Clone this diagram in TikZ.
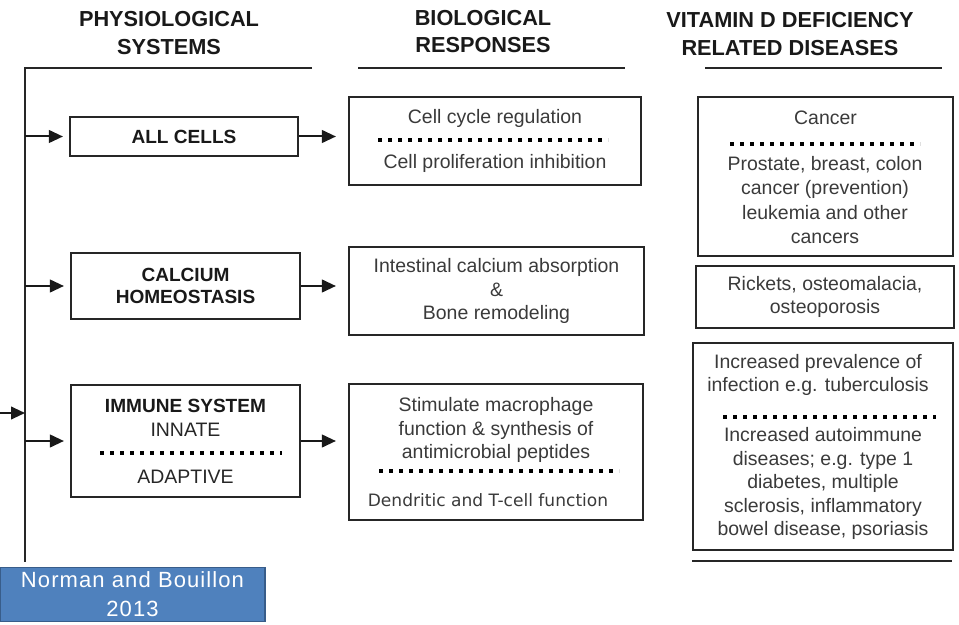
\documentclass[tikz,border=0pt]{standalone}
\usepackage{fontspec}
\setmainfont{Liberation Sans}
\newfontfamily\widefont{DejaVu Sans}
\newfontfamily\notefont[LetterSpace=5]{Liberation Sans}
\usetikzlibrary{arrows.meta}
\newdimen\pxu \pxu=0.75pt
\definecolor{inkgray}{HTML}{3A3A3A}
\definecolor{notefill}{HTML}{4F81BD}
\definecolor{noteedge}{HTML}{385D8A}

\begin{document}
\begin{tikzpicture}[
    x=0.75pt, y=-0.75pt,
    box/.style={rectangle, draw=black!85, line width=1.6pt, inner sep=0pt, align=center},
    header/.style={align=center, font=\fontsize{16.3}{20.5}\selectfont\bfseries, text=black!90},
    title/.style={align=center, font=\fontsize{14.3}{16.5}\selectfont\bfseries, text=black!90},
    body/.style={align=center, font=\fontsize{14.6}{17.6}\selectfont, text=inkgray},
    rule/.style={draw=black!85, line width=1.5pt},
    dots/.style={draw=black, line width=2.9pt, dash pattern=on 2.9pt off 4.6pt},
    arrow/.style={-{Triangle[length=10.5pt, width=9.5pt]}, draw=black!90, line width=1.5pt},
    note/.style={rectangle, fill=notefill, draw=noteedge, line width=1pt, align=center, text=white,
        font=\notefont\fontsize{16.5}{21.8}\selectfont}
]
\useasboundingbox (0,0) rectangle (959,624);

% Column headers
\node[header] (physio head) at (169,33) {PHYSIOLOGICAL\\SYSTEMS};
\node[header] (bio head) at (483,31.5) {BIOLOGICAL\\RESPONSES};
\node[header] (disease head) at (790,34) {VITAMIN D DEFICIENCY\\RELATED DISEASES};

% Header rules and spine
\coordinate (spine top) at (25,68);
\coordinate (spine end) at (25,562);
\coordinate (physio rule end) at (312,68);
\coordinate (bio rule start) at (358,68);
\coordinate (bio rule end) at (625,68);
\coordinate (disease rule start) at (705,68);
\coordinate (disease rule end) at (942,68);
\coordinate (bottom rule start) at (692,561);
\coordinate (bottom rule end) at (952,561);
\draw[rule] (physio rule end) -- (spine top) -- (spine end);
\draw[rule] (bio rule start) -- (bio rule end);
\draw[rule] (disease rule start) -- (disease rule end);
\draw[rule] (bottom rule start) -- (bottom rule end);

% Physiological systems
\node[box, title, minimum width=228\pxu, minimum height=39\pxu] (allcells) at (184,136.5) {ALL CELLS};
\node[box, title, minimum width=229\pxu, minimum height=66\pxu] (calcium) at (185.5,286) {CALCIUM\\HOMEOSTASIS};
\node[box, minimum width=229\pxu, minimum height=112\pxu] (immune) at (185.5,441) {};
\node[title] (immune title) at (185.5,406) {IMMUNE SYSTEM};
\node[body, text=black!85] (innate) at (185.5,430) {INNATE};
\draw[dots] (100,453) -- (282,453);
\node[body, text=black!85] (adaptive) at (185.5,477) {ADAPTIVE};

% Biological responses
\node[box, minimum width=292\pxu, minimum height=88\pxu] (cycle) at (495,141) {};
\node[body] (cycle top) at (495,118) {Cell cycle regulation};
\draw[dots] (378,140) -- (608,140);
\node[body] (cycle bottom) at (495,163) {Cell proliferation inhibition};
\node[box, body, minimum width=295\pxu, minimum height=88\pxu] (intestine) at (496.5,291) {Intestinal calcium absorption\\\&\\Bone remodeling};
\node[box, minimum width=294\pxu, minimum height=136\pxu] (macrophage) at (496,452) {};
\node[body] (macrophage top) at (496,430) {Stimulate macrophage\\function \& synthesis of\\antimicrobial peptides};
\draw[dots] (379,471) -- (619,471);
\node[body, font=\widefont\fontsize{12.8}{15}\selectfont] (dendritic) at (488,500) {Dendritic and T-cell function};

% Vitamin D deficiency related diseases
\node[box, minimum width=255\pxu, minimum height=159\pxu] (cancer) at (825.5,176.5) {};
\node[body] (cancer top) at (825.5,118) {Cancer};
\draw[dots] (730,144) -- (920,144);
\node[body, font=\fontsize{14.6}{18.2}\selectfont] (cancer types) at (825,200) {Prostate, breast, colon\\cancer (prevention)\\leukemia and other\\cancers};
\node[box, body, minimum width=258\pxu, minimum height=62\pxu] (rickets) at (825,297) {Rickets, osteomalacia,\\osteoporosis};
\node[box, minimum width=260\pxu, minimum height=207\pxu] (infect) at (823,446.5) {};
\node[body] (infection) at (818,375) {Increased prevalence of\\infection e.g. tuberculosis};
\draw[dots] (723,417) -- (936,417);
\node[body] (autoimmune) at (823,483.5) {Increased autoimmune\\diseases; e.g. type 1\\diabetes, multiple\\sclerosis, inflammatory\\bowel disease, psoriasis};

% Arrows from spine to systems
\coordinate (input) at (0,413);
\draw[arrow] (input) -- (input -| spine top);
\draw[arrow, shorten >=6\pxu] (spine top |- allcells.west) -- (allcells.west);
\draw[arrow, shorten >=6\pxu] (spine top |- calcium.west) -- (calcium.west);
\draw[arrow, shorten >=6\pxu] (spine top |- immune.west) -- (immune.west);

% Arrows from systems to responses
\draw[arrow, shorten >=12\pxu] (allcells.east) -- (allcells.east -| cycle.west);
\draw[arrow, shorten >=12\pxu] (calcium.east) -- (calcium.east -| intestine.west);
\draw[arrow, shorten >=12\pxu] (immune.east) -- (immune.east -| macrophage.west);

% Source note
\node[note, minimum width=265\pxu, minimum height=51\pxu] (source) at (132.5,594.5) {Norman and Bouillon\\2013};
\end{tikzpicture}
\end{document}
